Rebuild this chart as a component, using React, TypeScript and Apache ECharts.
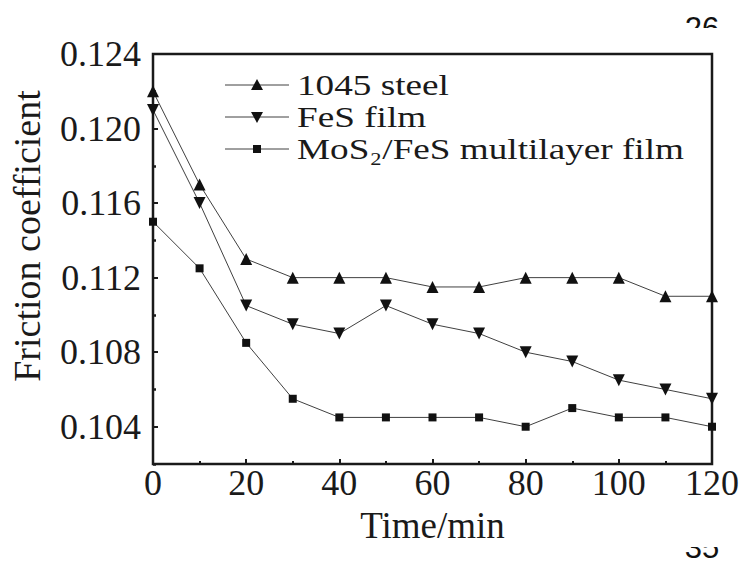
import React, { useEffect, useRef } from "react";
import * as echarts from "echarts";

const times = [0, 10, 20, 30, 40, 50, 60, 70, 80, 90, 100, 110, 120];
const steel1045 = [0.122, 0.117, 0.113, 0.112, 0.112, 0.112, 0.1115, 0.1115, 0.112, 0.112, 0.112, 0.111, 0.111];
const fesFilm = [0.121, 0.116, 0.1105, 0.1095, 0.109, 0.1105, 0.1095, 0.109, 0.108, 0.1075, 0.1065, 0.106, 0.1055];
const mosFesFilm = [0.115, 0.1125, 0.1085, 0.1055, 0.1045, 0.1045, 0.1045, 0.1045, 0.104, 0.105, 0.1045, 0.1045, 0.104];
const seriesNames = ["1045 steel", "FeS film", "MoS\u2082/FeS multilayer film"];
const yTickLabels = [0.104, 0.108, 0.112, 0.116, 0.12, 0.124];
const yMinorTicks = [0.102, 0.106, 0.11, 0.114, 0.118, 0.122];

const FONT = "Liberation Serif";
const TXT = "#1a1a1a";
const LINE = "#404040";
const MARK = "#111";

function legendGraphics() {
  const els: any[] = [];
  const x0 = 225;
  const x1 = 289;
  const mx = 257;
  seriesNames.forEach((name, i) => {
    const cy = 85 + i * 32;
    els.push({ type: "line", shape: { x1: x0, y1: cy, x2: x1, y2: cy }, style: { stroke: LINE, lineWidth: 1 } });
    if (i === 0) {
      els.push({ type: "polygon", shape: { points: [[mx, cy - 6], [mx - 6, cy + 5], [mx + 6, cy + 5]] }, style: { fill: MARK } });
    } else if (i === 1) {
      els.push({ type: "polygon", shape: { points: [[mx, cy + 6], [mx - 6, cy - 5], [mx + 6, cy - 5]] }, style: { fill: MARK } });
    } else {
      els.push({ type: "rect", shape: { x: mx - 4, y: cy - 4, width: 8, height: 8 }, style: { fill: MARK } });
    }
    els.push({
      type: "text",
      x: 297,
      y: cy,
      scaleX: 1.24,
      style: { text: name, fontFamily: FONT, fontSize: 30, fill: TXT, textAlign: "left", textVerticalAlign: "middle" },
    });
  });
  return els;
}

export default function App() {
  const ref = useRef<HTMLDivElement>(null);
  useEffect(() => {
    if (!ref.current) return;
    const chart = echarts.init(ref.current, null, { renderer: "svg" });
    const pts = (ys: number[]) => times.map((t, i) => [t, ys[i]]);
    const lineStyle = { color: LINE, width: 1 };
    const itemStyle = { color: MARK };
    chart.setOption({
      animation: false,
      backgroundColor: "#fff",
      textStyle: { fontFamily: FONT },
      grid: {
        left: 153,
        right: 33,
        top: 54,
        bottom: 102,
        show: true,
        borderColor: "#1a1a1a",
        borderWidth: 2.5,
        backgroundColor: "transparent",
      },
      legend: { show: false, data: seriesNames },
      xAxis: {
        type: "value",
        min: 0,
        max: 120,
        interval: 20,
        axisLine: { show: false },
        axisTick: { show: true, inside: true, length: 5, lineStyle: { color: "#1a1a1a", width: 2 } },
        minorTick: { show: true, splitNumber: 2, length: 3, lineStyle: { color: "#1a1a1a", width: 2 } },
        splitLine: { show: false },
        axisLabel: { color: TXT, fontFamily: FONT, fontSize: 36, margin: 1 },
        name: "Time/min",
        nameLocation: "middle",
        nameGap: 43,
        nameTextStyle: { color: TXT, fontFamily: FONT, fontSize: 37 },
      },
      yAxis: [
        {
          type: "value",
          min: 0.102,
          max: 0.124,
          position: "left",
          axisLine: { show: false },
          axisTick: {
            show: true,
            inside: true,
            length: 5,
            customValues: yTickLabels,
            lineStyle: { color: "#1a1a1a", width: 2 },
          },
          splitLine: { show: false },
          axisLabel: {
            color: TXT,
            fontFamily: FONT,
            fontSize: 36,
            margin: 12,
            customValues: yTickLabels,
            formatter: (v: number) => v.toFixed(3),
          },
        },
        {
          type: "value",
          min: 0.102,
          max: 0.124,
          position: "left",
          axisLine: { show: false },
          axisTick: {
            show: true,
            inside: true,
            length: 3,
            customValues: yMinorTicks,
            lineStyle: { color: "#1a1a1a", width: 2.5 },
          },
          splitLine: { show: false },
          axisLabel: { show: false },
        },
      ],
      graphic: [
        ...legendGraphics(),
        {
          type: "text",
          x: 27,
          y: 236,
          rotation: Math.PI / 2,
          style: {
            text: "Friction coefficient",
            fontFamily: FONT,
            fontSize: 38,
            fill: TXT,
            textAlign: "center",
            textVerticalAlign: "middle",
          },
        },
        {
          type: "text",
          x: 702,
          y: 13,
          style: { text: "26", fontFamily: "Liberation Sans", fontSize: 31, fill: "#111", textAlign: "center", textVerticalAlign: "top" },
        },
        { type: "rect", shape: { x: 680, y: 28, width: 46, height: 18 }, style: { fill: "#fff" } },
        {
          type: "text",
          x: 702,
          y: 563,
          style: { text: "35", fontFamily: "Liberation Sans", fontSize: 31, fill: "#111", textAlign: "center", textVerticalAlign: "bottom" },
        },
        { type: "rect", shape: { x: 680, y: 528, width: 46, height: 19 }, style: { fill: "#fff" } },
      ],
      series: [
        {
          name: seriesNames[0],
          type: "line",
          data: pts(steel1045),
          symbol: "triangle",
          symbolSize: 12,
          lineStyle,
          itemStyle,
          clip: false,
        },
        {
          name: seriesNames[1],
          type: "line",
          data: pts(fesFilm),
          symbol: "triangle",
          symbolRotate: 180,
          symbolSize: 12,
          lineStyle,
          itemStyle,
          clip: false,
        },
        {
          name: seriesNames[2],
          type: "line",
          data: pts(mosFesFilm),
          symbol: "rect",
          symbolSize: 8,
          lineStyle,
          itemStyle,
          clip: false,
        },
      ],
    });
    return () => chart.dispose();
  }, []);
  return (
    <div
      ref={ref}
      style={{ position: "fixed", left: 0, top: 0, width: 745, height: 566, background: "#fff" }}
    />
  );
}
